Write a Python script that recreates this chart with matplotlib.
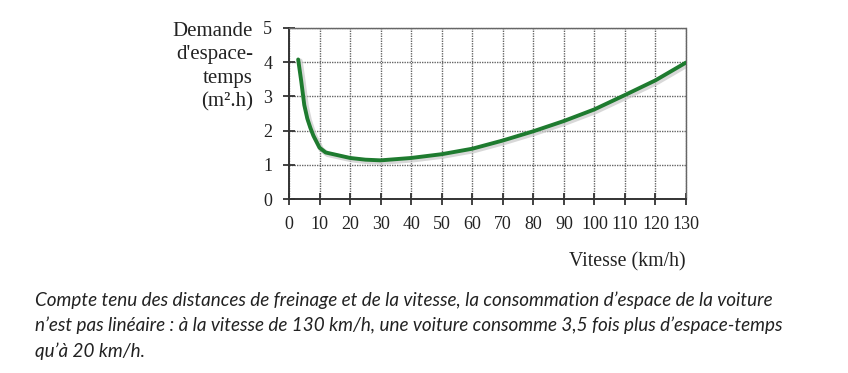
import matplotlib.pyplot as plt

# Vitesse (km/h) et demande d'espace-temps (m2.h)
vitesse = [3, 4, 5, 6, 7, 8, 10, 12, 15, 20, 25, 30, 40, 50, 60, 70, 80, 90, 100, 110, 120, 130]
demande = [4.08, 3.45, 2.75, 2.35, 2.08, 1.85, 1.5, 1.36, 1.3, 1.2, 1.15, 1.13, 1.2, 1.31,
           1.47, 1.71, 1.98, 2.28, 2.62, 3.04, 3.47, 3.99]

x_ticks = list(range(0, 131, 10))
y_ticks = [0, 1, 2, 3, 4, 5]

fig = plt.figure(figsize=(8.48, 3.73), dpi=100)
ax = fig.add_axes([289 / 848, 1 - 199 / 373, (686 - 289) / 848, (199 - 28) / 373])

serif = 'Liberation Serif'

# ombre légère puis courbe verte
ax.plot([v + 0.6 for v in vitesse], [d - 0.05 for d in demande], color='#c8c8c8',
        linewidth=4, alpha=0.7, solid_capstyle='round', zorder=2)
ax.plot(vitesse, demande, color='#1e7b2f', linewidth=2.8, solid_capstyle='round', zorder=3)

ax.set_xlim(0, 130)
ax.set_ylim(0, 5)
ax.set_xticks(x_ticks)
ax.set_yticks(y_ticks)
ax.grid(True, color='#666666', linestyle=(0, (1, 0.8)), linewidth=1.0)

for side in ['top', 'right']:
    ax.spines[side].set_linestyle((0, (1, 0.8)))
    ax.spines[side].set_color('#666666')
    ax.spines[side].set_linewidth(1.0)
for side in ['left', 'bottom']:
    ax.spines[side].set_color('#333333')
    ax.spines[side].set_linewidth(1.4)

ax.tick_params(direction='inout', length=8, width=1.3, color='#333333',
               labelsize=13, labelcolor='#222222', pad=8)
for lab in ax.get_xticklabels() + ax.get_yticklabels():
    lab.set_family(serif)

fig.text(253 / 848, 1 - 22 / 373, "Demande\nd'espace-\ntemps\n(m\u00b2.h)",
         ha='right', va='top', fontsize=15, family=serif, color='#222222',
         linespacing=1.32)
fig.text(686 / 848, 1 - 262 / 373, 'Vitesse (km/h)', ha='right', va='center',
         fontsize=14.3, family=serif, color='#222222')

caption = ("Compte tenu des distances de freinage et de la vitesse, la consommation d\u2019espace de la voiture\n"
           "n\u2019est pas linéaire : à la vitesse de 130 km/h, une voiture consomme 3,5 fois plus d\u2019espace-temps\n"
           "qu\u2019à 20 km/h.")
fig.text(35 / 848, 1 - 291 / 373, caption, ha='left', va='top', fontsize=13.6,
         family=['Lato', 'DejaVu Sans'], style='italic',
         color='#222222', linespacing=1.55)

fig.savefig('out.png', dpi=100)
